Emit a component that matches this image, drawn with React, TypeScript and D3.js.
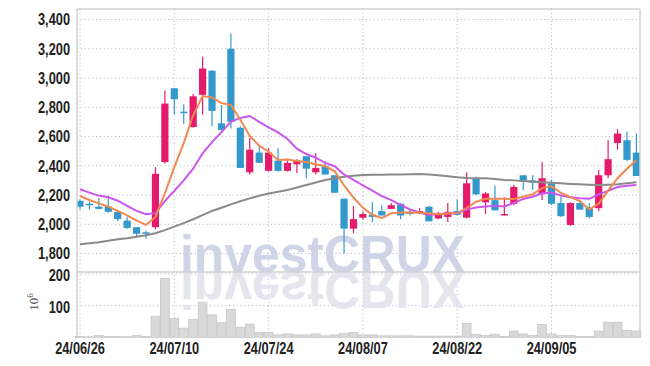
import React from 'react';
import * as d3 from 'd3';

const dates = [
  '24/06/26','24/06/27','24/06/28','24/07/01','24/07/02','24/07/03','24/07/04','24/07/05','24/07/08','24/07/09',
  '24/07/10','24/07/11','24/07/12','24/07/15','24/07/16','24/07/17','24/07/18','24/07/19','24/07/22','24/07/23',
  '24/07/24','24/07/25','24/07/26','24/07/29','24/07/30','24/07/31','24/08/01','24/08/02','24/08/05','24/08/06',
  '24/08/07','24/08/08','24/08/09','24/08/12','24/08/13','24/08/14','24/08/16','24/08/19','24/08/20','24/08/21',
  '24/08/22','24/08/23','24/08/26','24/08/27','24/08/28','24/08/29','24/08/30','24/09/02','24/09/03','24/09/04',
  '24/09/05','24/09/06','24/09/09','24/09/10','24/09/11','24/09/12','24/09/13','24/09/19','24/09/20','24/09/23',
];

const opens = [
  2160,2140,2120,2120,2085,2025,1980,1945,1980,2425,
  2930,2770,2665,2885,3050,2690,3200,2660,2355,2490,
  2365,2435,2365,2410,2465,2355,2395,2335,2175,1970,
  2045,2065,2090,2105,2140,2085,2075,2120,2040,2050,
  2090,2045,2315,2150,2165,2065,2140,2335,2300,2205,
  2280,2145,1995,2145,2115,2110,2335,2555,2575,2490,
];
const highs = [
  2170,2155,2180,2195,2090,2050,1980,1955,2390,2915,
  2930,2820,2890,3145,3055,2815,3305,2670,2590,2530,
  2520,2520,2435,2445,2465,2485,2430,2335,2175,2125,
  2085,2150,2130,2145,2145,2100,2110,2125,2085,2145,
  2170,2355,2325,2220,2265,2185,2270,2335,2335,2425,
  2305,2190,2150,2155,2145,2370,2575,2650,2635,2620,
];
const lows = [
  2100,2100,2100,2080,2020,1970,1915,1900,1965,2415,
  2750,2685,2660,2750,2670,2640,2655,2385,2340,2420,
  2360,2360,2360,2350,2315,2340,2340,2215,1800,1940,
  2030,2015,2060,2105,2035,2060,2070,2020,2035,2015,
  2060,2040,2200,2070,2095,2060,2130,2235,2235,2165,
  2130,2050,1990,2100,2040,2090,2315,2510,2430,2330,
];
const closes = [
  2120,2135,2105,2085,2035,1975,1935,1935,2345,2825,
  2855,2760,2875,3065,2775,2645,2700,2385,2510,2420,
  2490,2365,2420,2435,2380,2385,2340,2215,1970,2035,
  2070,2050,2060,2130,2060,2070,2090,2020,2075,2085,
  2065,2280,2205,2210,2095,2070,2255,2290,2285,2315,
  2140,2055,2145,2100,2050,2335,2445,2620,2440,2330,
];
// volume in millions
const volumes = [
  3,2,6,3,3,2,6,3,67,186,
  60,29,57,111,71,46,88,32,42,15,
  15,8,11,8,8,11,5,8,13,15,
  8,8,5,5,5,5,4,4,4,4,
  4,44,10,6,10,3,20,11,6,41,
  11,6,6,3,3,20,48,48,22,20,
];
// moving averages
const ma5 = [
  2193,2166,2143,2120,2092,2060,2025,1996,2048,2212,
  2390,2555,2745,2877,2867,2828,2816,2714,2604,2537,
  2496,2439,2442,2432,2425,2408,2398,2362,2265,2183,
  2112,2065,2042,2075,2080,2080,2080,2075,2069,2073,
  2076,2111,2154,2174,2174,2174,2172,2188,2205,2247,
  2261,2214,2185,2158,2102,2141,2230,2315,2380,2437,
];
const ma10 = [
  2239,2216,2196,2184,2161,2125,2091,2068,2076,2158,
  2228,2300,2380,2485,2562,2630,2700,2727,2740,2700,
  2663,2628,2583,2517,2480,2455,2420,2397,2340,2303,
  2265,2230,2193,2165,2132,2101,2080,2063,2070,2073,
  2075,2100,2115,2122,2126,2122,2145,2173,2188,2212,
  2217,2196,2185,2178,2174,2204,2228,2255,2264,2268,
];
const ma60 = [
  1863,1870,1877,1887,1897,1905,1915,1925,1938,1960,
  1984,2008,2034,2062,2091,2113,2136,2157,2177,2195,
  2210,2222,2234,2251,2268,2285,2303,2314,2325,2331,
  2337,2338,2339,2340,2341,2342,2344,2340,2335,2328,
  2321,2317,2315,2314,2309,2303,2300,2296,2291,2287,
  2284,2280,2276,2273,2270,2268,2270,2273,2280,2287,
];

const priceTicks = [1800, 2000, 2200, 2400, 2600, 2800, 3000, 3200, 3400];
const volumeTicks = [100, 200];
const dateTicks = ['24/06/26', '24/07/10', '24/07/24', '24/08/07', '24/08/22', '24/09/05'];

const W = 650, H = 366;
const L = 77, R = 640, T = 9, PB = 272, VB = 337.4;
const UP = '#e31b6a';
const DOWN = '#3399cc';
const GRID = '#b9bdd2';
const LABEL_FONT = "'Liberation Sans',Arial,sans-serif";
const SX = 0.8;

export default function App() {
  const x = d3.scalePoint<string>().domain(dates).range([80, 636.4]);
  const y = d3.scaleLinear().domain([1673.5, 3471.8]).range([PB, T]);
  const yv = d3.scaleLinear().domain([0, 206]).range([VB, PB]);
  const step = x.step();
  const bodyW = 7.2;
  const fmt = d3.format(',');

  const mkLine = (vals: number[]) =>
    d3.line<number>().x((_, i) => x(dates[i]) as number).y((d) => y(d))(vals) || '';

  return (
    <svg width={W} height={H} style={{ position: 'absolute', left: 0, top: 0, background: '#fff' }}>
      <defs>
        <clipPath id="priceClip"><rect x={L} y={T} width={R - L} height={PB - T} /></clipPath>
        <clipPath id="volClip"><rect x={L} y={PB} width={R - L} height={VB - PB + 1} /></clipPath>
      </defs>
      <rect x={0} y={0} width={W} height={H} fill="#fff" />

      {/* grid */}
      {priceTicks.map((t) => (
        <line key={'pg' + t} x1={L} x2={R} y1={y(t)} y2={y(t)} stroke={GRID} strokeWidth={1} strokeDasharray="1.2,2.6" />
      ))}
      {volumeTicks.map((t) => (
        <line key={'vg' + t} x1={L} x2={R} y1={yv(t)} y2={yv(t)} stroke={GRID} strokeWidth={1} strokeDasharray="1.2,2.6" />
      ))}
      {dateTicks.map((d) => (
        <line key={'xg' + d} x1={x(d)} x2={x(d)} y1={T} y2={VB} stroke={GRID} strokeWidth={1} strokeDasharray="1.2,2.6" />
      ))}

      {/* watermark */}
      <g clipPath="url(#priceClip)">
        <text x={180} y={272} fontFamily="'Liberation Sans',Arial,sans-serif" fontWeight="bold" fontSize={52}
          textLength={285} lengthAdjust="spacingAndGlyphs" fill="#cfd5e6">investCRUX</text>
      </g>
      <g clipPath="url(#volClip)">
        <g transform={`translate(0,${2 * 272}) scale(1,-1)`}>
          <text x={180} y={272} fontFamily="'Liberation Sans',Arial,sans-serif" fontWeight="bold" fontSize={52}
            textLength={285} lengthAdjust="spacingAndGlyphs" fill="#e4e5ed">investCRUX</text>
        </g>
      </g>

      {/* volume bars */}
      <g>
        {volumes.map((v, i) => (
          <rect key={'v' + i} x={(x(dates[i]) as number) - step / 2 + 0.3} y={yv(v)} width={step - 0.6}
            height={VB - yv(v)} fill="#d9d9d9" stroke="#c4c4c4" strokeWidth={0.7} />
        ))}
      </g>

      {/* candles */}
      <g clipPath="url(#priceClip)">
        {dates.map((d, i) => {
          const cx = x(d) as number;
          const o = opens[i], c = closes[i];
          const col = c >= o ? UP : DOWN;
          const top = y(Math.max(o, c));
          const bot = y(Math.min(o, c));
          return (
            <g key={'c' + i}>
              <line x1={cx} x2={cx} y1={y(highs[i])} y2={y(lows[i])} stroke={col} strokeWidth={1.2} />
              <rect x={cx - bodyW / 2} y={top} width={bodyW} height={Math.max(1.5, bot - top)} fill={col} />
            </g>
          );
        })}
        <path d={mkLine(ma60)} fill="none" stroke="#8a8a8a" strokeWidth={2} />
        <path d={mkLine(ma10)} fill="none" stroke="#cc55ee" strokeWidth={2} />
        <path d={mkLine(ma5)} fill="none" stroke="#f08850" strokeWidth={2} />
      </g>

      {/* frame */}
      <line x1={L} x2={R} y1={T} y2={T} stroke="#d0d0d0" strokeWidth={1.5} />
      <line x1={L} x2={R} y1={PB} y2={PB} stroke="#d0d0d0" strokeWidth={1.5} />
      <line x1={L} x2={L} y1={T} y2={VB} stroke="#d0d0d0" strokeWidth={1.5} />
      <line x1={R} x2={R} y1={T} y2={VB} stroke="#d0d0d0" strokeWidth={1.5} />

      {/* y labels */}
      {priceTicks.map((t) => (
        <text key={'pl' + t} transform={`translate(70,${y(t)}) scale(${SX},1)`} dy="0.36em" textAnchor="end"
          fontFamily={LABEL_FONT} fontWeight="bold" fontSize={16} fill="#222">{fmt(t)}</text>
      ))}
      {volumeTicks.map((t) => (
        <text key={'vl' + t} transform={`translate(70,${yv(t) + 1.5}) scale(${SX},1)`} dy="0.36em" textAnchor="end"
          fontFamily={LABEL_FONT} fontWeight="bold" fontSize={16} fill="#222">{fmt(t)}</text>
      ))}
      <text transform="translate(38,302) rotate(-90)" textAnchor="middle" fontFamily="'Liberation Serif',serif"
        fontSize={13} fill="#444">10<tspan dy={-5} fontSize={9}>6</tspan></text>

      {/* x labels */}
      {dateTicks.map((d) => (
        <text key={'xl' + d} transform={`translate(${x(d)},354) scale(${SX},1)`} textAnchor="middle"
          fontFamily={LABEL_FONT} fontWeight="bold" fontSize={16} fill="#222">{d}</text>
      ))}
    </svg>
  );
}
